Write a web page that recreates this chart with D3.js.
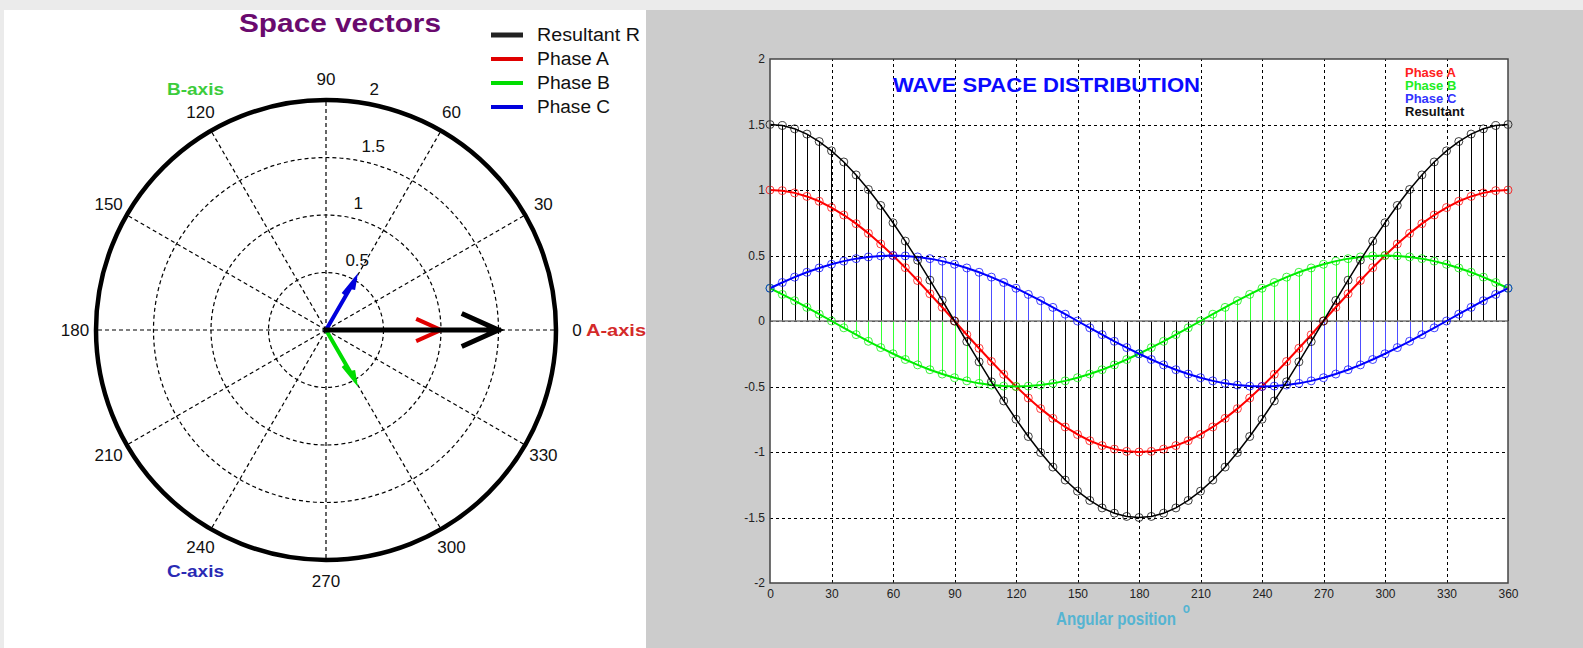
<!DOCTYPE html>
<html><head><meta charset="utf-8">
<script src="https://cdn.jsdelivr.net/npm/d3@7"></script>
<style>
body{margin:0;background:#ebebeb;}
svg{display:block;font-family:"Liberation Sans",Arial,sans-serif;}
</style>
</head><body>
<svg id="c" width="1583" height="648"></svg>
<script>
// ---------- data ----------
const angles = [0,6,12,18,24,30,36,42,48,54,60,66,72,78,84,90,96,102,108,114,120,126,132,138,144,150,156,162,168,174,180,186,192,198,204,210,216,222,228,234,240,246,252,258,264,270,276,282,288,294,300,306,312,318,324,330,336,342,348,354,360];
const phaseA = [1,0.995,0.978,0.951,0.914,0.866,0.809,0.743,0.669,0.588,0.5,0.407,0.309,0.208,0.105,0,-0.105,-0.208,-0.309,-0.407,-0.5,-0.588,-0.669,-0.743,-0.809,-0.866,-0.914,-0.951,-0.978,-0.995,-1,-0.995,-0.978,-0.951,-0.914,-0.866,-0.809,-0.743,-0.669,-0.588,-0.5,-0.407,-0.309,-0.208,-0.105,0,0.105,0.208,0.309,0.407,0.5,0.588,0.669,0.743,0.809,0.866,0.914,0.951,0.978,0.995,1];
const phaseB = [0.25,0.203,0.155,0.104,0.052,0,-0.052,-0.104,-0.155,-0.203,-0.25,-0.294,-0.335,-0.372,-0.405,-0.433,-0.457,-0.476,-0.489,-0.497,-0.5,-0.497,-0.489,-0.476,-0.457,-0.433,-0.405,-0.372,-0.335,-0.294,-0.25,-0.203,-0.155,-0.104,-0.052,0,0.052,0.104,0.155,0.203,0.25,0.294,0.335,0.372,0.405,0.433,0.457,0.476,0.489,0.497,0.5,0.497,0.489,0.476,0.457,0.433,0.405,0.372,0.335,0.294,0.25];
const phaseC = [0.25,0.294,0.335,0.372,0.405,0.433,0.457,0.476,0.489,0.497,0.5,0.497,0.489,0.476,0.457,0.433,0.405,0.372,0.335,0.294,0.25,0.203,0.155,0.104,0.052,0,-0.052,-0.104,-0.155,-0.203,-0.25,-0.294,-0.335,-0.372,-0.405,-0.433,-0.457,-0.476,-0.489,-0.497,-0.5,-0.497,-0.489,-0.476,-0.457,-0.433,-0.405,-0.372,-0.335,-0.294,-0.25,-0.203,-0.155,-0.104,-0.052,0,0.052,0.104,0.155,0.203,0.25];
const resultant = [1.5,1.492,1.467,1.427,1.370,1.299,1.214,1.115,1.004,0.882,0.75,0.610,0.464,0.312,0.157,0,-0.157,-0.312,-0.464,-0.610,-0.75,-0.882,-1.004,-1.115,-1.214,-1.299,-1.370,-1.427,-1.467,-1.492,-1.5,-1.492,-1.467,-1.427,-1.370,-1.299,-1.214,-1.115,-1.004,-0.882,-0.75,-0.610,-0.464,-0.312,-0.157,0,0.157,0.312,0.464,0.610,0.75,0.882,1.004,1.115,1.214,1.299,1.370,1.427,1.467,1.492,1.5];
const xTicks = [0,30,60,90,120,150,180,210,240,270,300,330,360];
const yTicks = [-2,-1.5,-1,-0.5,0,0.5,1,1.5,2];

const polarAngles = [0,30,60,90,120,150,180,210,240,270,300,330];
const radialTicks = [0.5,1,1.5,2];
const vecNames = ["Phase A","Phase B","Phase C","Resultant R"];
const vecMag = [1,0.5,0.5,1.5];
const vecAng = [0,300,60,0];
const legendNames = ["Resultant R","Phase A","Phase B","Phase C"];
const waveLegend = ["Phase A","Phase B","Phase C","Resultant"];

// ---------- setup ----------
const svg = d3.select("#c");
svg.append("rect").attr("width",1583).attr("height",648).attr("fill","#ebebeb");
svg.append("rect").attr("x",4).attr("y",10).attr("width",642).attr("height",638).attr("fill","#ffffff");
svg.append("rect").attr("x",646).attr("y",10).attr("width",937).attr("height",638).attr("fill","#cccccc");

// ---------- polar panel ----------
const cx = 326, cy = 330;
const r = d3.scaleLinear().domain([0,2]).range([0,230]);
const rad = d => d*Math.PI/180;
const pt = (v,deg) => [cx + r(v)*Math.cos(rad(deg)), cy - r(v)*Math.sin(rad(deg))];
const P = svg.append("g");

P.selectAll("circle.ring").data(radialTicks.filter(v=>v<2)).enter().append("circle")
  .attr("cx",cx).attr("cy",cy).attr("r",d=>r(d))
  .attr("fill","none").attr("stroke","#000").attr("stroke-width",1.2).attr("stroke-dasharray","4,3");
P.selectAll("line.spoke").data(polarAngles).enter().append("line")
  .attr("x1",cx).attr("y1",cy).attr("x2",d=>pt(2,d)[0]).attr("y2",d=>pt(2,d)[1])
  .attr("stroke","#000").attr("stroke-width",1.2).attr("stroke-dasharray","4,3");
P.append("circle").attr("cx",cx).attr("cy",cy).attr("r",r(2))
  .attr("fill","none").attr("stroke","#000").attr("stroke-width",4.5);

// angle labels
const labR = r.invert(251);
P.selectAll("text.ang").data(polarAngles).enter().append("text")
  .attr("x",d=>pt(labR,d)[0]).attr("y",d=>pt(labR,d)[1])
  .attr("text-anchor","middle").attr("dominant-baseline","central")
  .attr("font-size",17).attr("fill","#111").text(d=>String(d));

// radial labels
P.selectAll("text.rad").data(radialTicks).enter().append("text")
  .attr("x",d=>pt(d+0.025,82)[0]+11).attr("y",d=>pt(d+0.025,82)[1]-10)
  .attr("dominant-baseline","central").attr("font-size",17).attr("fill","#111")
  .text(d=>String(d));

// axis names
P.append("text").attr("x",167).attr("y",95).attr("font-size",17).attr("font-weight","bold")
  .attr("fill","#3ccc3c").attr("textLength",57).attr("lengthAdjust","spacingAndGlyphs").text("B-axis");
P.append("text").attr("x",167).attr("y",577).attr("font-size",17).attr("font-weight","bold")
  .attr("fill","#2a2ab4").attr("textLength",57).attr("lengthAdjust","spacingAndGlyphs").text("C-axis");
P.append("text").attr("x",586).attr("y",336).attr("font-size",17).attr("font-weight","bold")
  .attr("fill","#d42a2a").attr("textLength",60).attr("lengthAdjust","spacingAndGlyphs").text("A-axis");

// vectors
const vecColor = {"Phase A":"#e00000","Phase B":"#00dd00","Phase C":"#0000dd","Resultant R":"#000000"};
const vecWidth = {"Phase A":4,"Phase B":4,"Phase C":4,"Resultant R":5};
vecNames.forEach((n,i)=>{
  const m = vecMag[i], a = rad(vecAng[i]);
  const L = r(m);
  const tr = (u,v) => [cx + (u*Math.cos(a) + v*Math.sin(a)), cy - (u*Math.sin(a) + v*Math.cos(a))];
  const tip = tr(L,0), b1 = tr(0.8*L, 0.09*L), b2 = tr(0.8*L, -0.09*L);
  const p = d3.path();
  p.moveTo(cx,cy); p.lineTo(tip[0],tip[1]);
  p.moveTo(b1[0],b1[1]); p.lineTo(tip[0],tip[1]); p.lineTo(b2[0],b2[1]);
  P.append("path").attr("d",p.toString()).attr("fill","none")
    .attr("stroke",vecColor[n]).attr("stroke-width",vecWidth[n])
    .attr("stroke-linejoin","miter").attr("stroke-linecap","square");
});

// title
P.append("text").attr("x",239).attr("y",32).attr("font-size",26).attr("font-weight","bold")
  .attr("fill","#6a0a6e").attr("textLength",202).attr("lengthAdjust","spacingAndGlyphs").text("Space vectors");

// legend
const legY = d3.scalePoint().domain(legendNames).range([35,107]);
legendNames.forEach(n=>{
  P.append("line").attr("x1",491).attr("x2",523).attr("y1",legY(n)).attr("y2",legY(n))
    .attr("stroke", n==="Resultant R" ? "#222" : vecColor[n]).attr("stroke-width", n==="Resultant R"?5:4);
  P.append("text").attr("x",537).attr("y",legY(n)).attr("dominant-baseline","central")
    .attr("font-size",18).attr("fill","#111")
    .attr("textLength", n==="Resultant R"?103:(n==="Phase A"?72:73)).attr("lengthAdjust","spacingAndGlyphs")
    .text(n);
});

// ---------- wave panel ----------
const x = d3.scaleLinear().domain([0,360]).range([770,1508]);
const y = d3.scaleLinear().domain([-2,2]).range([583,59]);
const W = svg.append("g");
W.append("rect").attr("x",770).attr("y",59).attr("width",738).attr("height",524).attr("fill","#fff");

// grid
const gx = W.append("g").attr("transform","translate(0,583)")
  .call(d3.axisBottom(x).tickValues(xTicks.slice(1,-1)).tickSize(-524).tickFormat(""));
gx.select(".domain").remove();
gx.selectAll("line").attr("stroke","#000").attr("stroke-dasharray","3,3").attr("stroke-width",1).attr("shape-rendering","crispEdges");
const gy = W.append("g").attr("transform","translate(770,0)")
  .call(d3.axisLeft(y).tickValues(yTicks.slice(1,-1)).tickSize(-738).tickFormat(""));
gy.select(".domain").remove();
gy.selectAll("line").attr("stroke","#000").attr("stroke-dasharray","3,3").attr("stroke-width",1).attr("shape-rendering","crispEdges");

const series = [
  {name:"Phase A", vals:phaseA, color:"#ff0000", stem:"#ff0000", lw:2},
  {name:"Phase B", vals:phaseB, color:"#00ee00", stem:"#33ff33", lw:2},
  {name:"Phase C", vals:phaseC, color:"#0000ff", stem:"#4d4dff", lw:2},
  {name:"Resultant", vals:resultant, color:"#000000", stem:"#000000", lw:1.5}
];
// stems
series.forEach(s=>{
  W.append("g").selectAll("line").data(angles).enter().append("line")
    .attr("x1",d=>Math.round(x(d))+0.5).attr("x2",d=>Math.round(x(d))+0.5)
    .attr("y1",y(0)).attr("y2",(d,i)=>y(s.vals[i]))
    .attr("stroke",s.stem).attr("stroke-width",1).attr("shape-rendering","crispEdges");
});
// baseline
W.append("line").attr("x1",x(0)).attr("x2",x(360)).attr("y1",y(0)).attr("y2",y(0))
  .attr("stroke","#777").attr("stroke-width",1.5);
// curves + markers
series.forEach(s=>{
  const line = d3.line().x(d=>x(d)).y((d,i)=>y(s.vals[i])).curve(d3.curveLinear);
  W.append("path").attr("d",line(angles)).attr("fill","none").attr("stroke",s.color).attr("stroke-width",s.lw);
  W.append("g").selectAll("circle").data(angles).enter().append("circle")
    .attr("cx",d=>x(d)).attr("cy",(d,i)=>y(s.vals[i])).attr("r",4)
    .attr("fill","none").attr("stroke",s.color).attr("stroke-width",1).attr("stroke-opacity",0.75);
});

// frame
W.append("rect").attr("x",770).attr("y",59).attr("width",738).attr("height",524)
  .attr("fill","none").attr("stroke","#444").attr("stroke-width",1.5);

// axes labels
const ax = W.append("g").attr("transform","translate(0,583)")
  .call(d3.axisBottom(x).tickValues(xTicks).tickSize(0).tickPadding(6).tickFormat(d=>String(d)));
ax.select(".domain").remove();
ax.selectAll("text").attr("font-size",12).attr("fill","#222").attr("font-family","'Liberation Sans',Arial,sans-serif");
const ay = W.append("g").attr("transform","translate(770,0)")
  .call(d3.axisLeft(y).tickValues(yTicks).tickSize(0).tickPadding(5).tickFormat(d=>String(d)));
ay.select(".domain").remove();
ay.selectAll("text").attr("font-size",12).attr("fill","#222").attr("font-family","'Liberation Sans',Arial,sans-serif");

// title
W.append("text").attr("x",893).attr("y",92).attr("font-size",21).attr("font-weight","bold")
  .attr("fill","#0a0aff").attr("textLength",307).attr("lengthAdjust","spacingAndGlyphs")
  .text("WAVE SPACE DISTRIBUTION");

// wave legend
const wColors = {"Phase A":"#ff2020","Phase B":"#22ee22","Phase C":"#3333ff","Resultant":"#111"};
const wl = d3.scalePoint().domain(waveLegend).range([72,111]);
waveLegend.forEach(n=>{
  W.append("text").attr("x",1405).attr("y",wl(n)).attr("dominant-baseline","central")
    .attr("font-size",13).attr("font-weight","bold").attr("fill",wColors[n]).text(n);
});

// x label with superscript degree mark (horizontally condensed like the original font)
const xl = W.append("text").attr("transform","translate(1056,625) scale(0.84,1)")
  .attr("font-size",18).attr("font-weight","bold").attr("fill","#55b4d2");
xl.append("tspan").text("Angular position");
xl.append("tspan").attr("dx",8).attr("dy",-12).attr("font-size",14).text("o");
</script>
</body></html>
